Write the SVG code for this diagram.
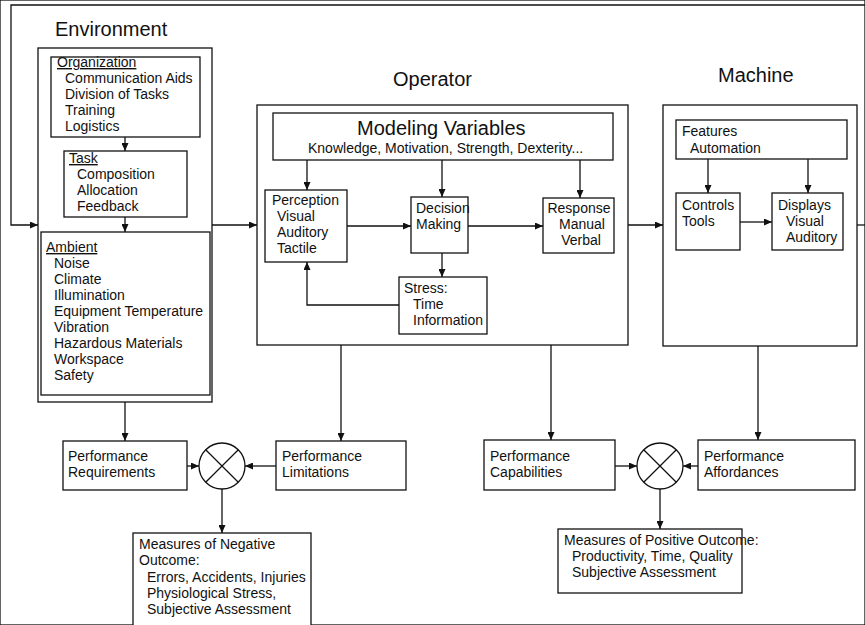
<svg xmlns="http://www.w3.org/2000/svg" width="865" height="625" viewBox="0 0 865 625">
<style>
  rect, circle, .x { fill: none; stroke: #111; stroke-width: 1.3; }
  rect { fill: #fff; }
  circle { fill: #fff; }
  text { font-family: "Liberation Sans", Arial, sans-serif; font-size: 14px; fill: #111; }
  .title { font-size: 20px; }
  .u { text-decoration: underline; }
  #connectors path { fill: none; stroke: #111; stroke-width: 1.3; }
  .a { marker-end: url(#arr); }
</style>
<defs>
  <marker id="arr" markerUnits="userSpaceOnUse" markerWidth="8" markerHeight="7" refX="8" refY="3.5" orient="auto">
    <path d="M0,0 L8,3.5 L0,7 z" fill="#111"/>
  </marker>
</defs>
<rect x="0" y="0" width="865" height="625" fill="#fff" stroke="none"/>

<g id="titles">
  <text class="title" x="55" y="36">Environment</text>
  <text class="title" x="393" y="86">Operator</text>
  <text class="title" x="718" y="82">Machine</text>
</g>

<g id="environment">
  <rect x="38" y="48" width="174" height="354"/>
</g>
<g id="organization">
  <rect x="51" y="57" width="149" height="80"/>
  <text class="u" x="57" y="67">Organization</text>
  <text x="65" y="83">Communication Aids</text>
  <text x="65" y="99">Division of Tasks</text>
  <text x="65" y="115">Training</text>
  <text x="65" y="131">Logistics</text>
</g>
<g id="task">
  <rect x="64" y="151" width="123" height="66"/>
  <text class="u" x="69" y="163">Task</text>
  <text x="77" y="179">Composition</text>
  <text x="77" y="195">Allocation</text>
  <text x="77" y="211">Feedback</text>
</g>
<g id="ambient">
  <rect x="41" y="232" width="169" height="163"/>
  <text class="u" x="46" y="252">Ambient</text>
  <text x="54" y="268">Noise</text>
  <text x="54" y="284">Climate</text>
  <text x="54" y="300">Illumination</text>
  <text x="54" y="316">Equipment Temperature</text>
  <text x="54" y="332">Vibration</text>
  <text x="54" y="348">Hazardous Materials</text>
  <text x="54" y="364">Workspace</text>
  <text x="54" y="380">Safety</text>
</g>

<g id="operator">
  <rect x="257" y="105" width="371" height="240"/>
</g>
<g id="modeling">
  <rect x="273" y="113" width="340" height="47"/>
  <text class="title" x="357" y="135">Modeling Variables</text>
  <text x="308" y="153">Knowledge, Motivation, Strength, Dexterity...</text>
</g>
<g id="perception">
  <rect x="265" y="190" width="82" height="72"/>
  <text x="272" y="205">Perception</text>
  <text x="277" y="221">Visual</text>
  <text x="277" y="237">Auditory</text>
  <text x="277" y="253">Tactile</text>
</g>
<g id="decision">
  <rect x="411" y="197" width="57" height="56"/>
  <text x="416" y="213">Decision</text>
  <text x="416" y="229">Making</text>
</g>
<g id="response">
  <rect x="543" y="198" width="71" height="55"/>
  <text x="579" y="213" text-anchor="middle">Response</text>
  <text x="582" y="229" text-anchor="middle">Manual</text>
  <text x="581" y="245" text-anchor="middle">Verbal</text>
</g>
<g id="stress">
  <rect x="399" y="277" width="88" height="57"/>
  <text x="404" y="293">Stress:</text>
  <text x="413" y="309">Time</text>
  <text x="413" y="325">Information</text>
</g>

<g id="machine">
  <rect x="663" y="105" width="194" height="241"/>
</g>
<g id="features">
  <rect x="676" y="120" width="171" height="39"/>
  <text x="682" y="136">Features</text>
  <text x="690" y="153">Automation</text>
</g>
<g id="controls">
  <rect x="676" y="193" width="64" height="57"/>
  <text x="682" y="210">Controls</text>
  <text x="682" y="226">Tools</text>
</g>
<g id="displays">
  <rect x="772" y="193" width="71" height="57"/>
  <text x="778" y="210">Displays</text>
  <text x="786" y="226">Visual</text>
  <text x="786" y="242">Auditory</text>
</g>

<g id="perf-req">
  <rect x="63" y="441" width="124" height="49"/>
  <text x="68" y="461">Performance</text>
  <text x="68" y="477">Requirements</text>
</g>
<g id="comparator-neg">
  <circle cx="222" cy="466" r="23"/>
  <path class="x" d="M205.7,449.7 L238.3,482.3 M238.3,449.7 L205.7,482.3"/>
</g>
<g id="perf-lim">
  <rect x="276" y="441" width="130" height="49"/>
  <text x="282" y="461">Performance</text>
  <text x="282" y="477">Limitations</text>
</g>
<g id="measures-neg">
  <rect x="133" y="533" width="178" height="110"/>
  <text x="139" y="549">Measures of Negative</text>
  <text x="139" y="565">Outcome:</text>
  <text x="147" y="582">Errors, Accidents, Injuries</text>
  <text x="147" y="598">Physiological Stress,</text>
  <text x="147" y="614">Subjective Assessment</text>
</g>

<g id="perf-cap">
  <rect x="484" y="440" width="131" height="50"/>
  <text x="490" y="461">Performance</text>
  <text x="490" y="477">Capabilities</text>
</g>
<g id="comparator-pos">
  <circle cx="660" cy="466" r="23"/>
  <path class="x" d="M643.7,449.7 L676.3,482.3 M676.3,449.7 L643.7,482.3"/>
</g>
<g id="perf-aff">
  <rect x="698" y="440" width="157" height="50"/>
  <text x="704" y="461">Performance</text>
  <text x="704" y="477">Affordances</text>
</g>
<g id="measures-pos">
  <rect x="558" y="529" width="184" height="64"/>
  <text x="564" y="545">Measures of Positive Outcome:</text>
  <text x="572" y="561">Productivity, Time, Quality</text>
  <text x="572" y="577">Subjective Assessment</text>
</g>

<g id="connectors">
  <path class="a" d="M865,5 H11 V225 H38"/>
  <path d="M857,225 H865"/>
  <path class="a" d="M212,225 H257"/>
  <path class="a" d="M125,137 V151"/>
  <path class="a" d="M125,217 V232"/>
  <path class="a" d="M628,225 H663"/>
  <path class="a" d="M307,160 V190"/>
  <path class="a" d="M442,160 V197"/>
  <path class="a" d="M580,160 V198"/>
  <path class="a" d="M347,226 H411"/>
  <path class="a" d="M468,226 H543"/>
  <path class="a" d="M442,253 V277"/>
  <path class="a" d="M399,305 H307 V262"/>
  <path class="a" d="M708,159 V193"/>
  <path class="a" d="M808,159 V193"/>
  <path class="a" d="M740,222 H772"/>
  <path class="a" d="M125,402 V441"/>
  <path class="a" d="M187,466 H199"/>
  <path class="a" d="M276,466 H245"/>
  <path class="a" d="M341,345 V441"/>
  <path class="a" d="M222,489 V533"/>
  <path class="a" d="M551,345 V440"/>
  <path class="a" d="M615,466 H637"/>
  <path class="a" d="M698,466 H683"/>
  <path class="a" d="M758,346 V440"/>
  <path class="a" d="M660,489 V529"/>
</g>
</svg>
